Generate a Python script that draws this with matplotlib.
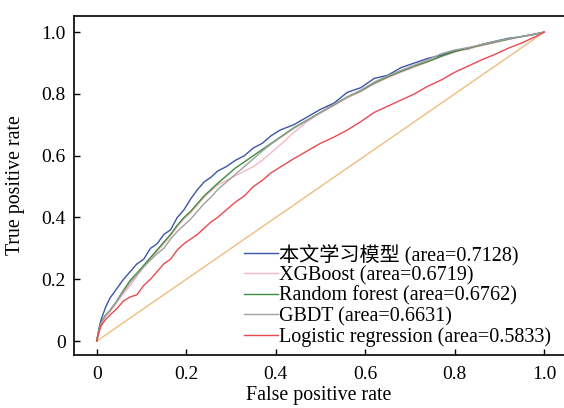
import matplotlib
matplotlib.use('Agg')
import matplotlib.pyplot as plt

plt.rcParams['font.family'] = ['Liberation Serif', 'Noto Sans CJK SC']

# shared false positive rate grid
fpr = [0, .005, .01, .02, .03, .045, .06, .075, .09, .105, .12, .135, .15, .165, .18, .195,
       .21, .225, .24, .255, .27, .29, .31, .33, .35, .37, .39, .41, .44, .47, .5, .53,
       .56, .59, .62, .65, .68, .71, .74, .77, .8, .83, .86, .89, .92, .95, .98, 1.0]

tpr_ours = [0, .04, .07, .11, .14, .17, .2, .225, .25, .265, .3, .315, .345, .36, .4, .425,
            .46, .49, .515, .53, .55, .565, .585, .6, .625, .64, .665, .683, .7, .725, .75, .77,
            .805, .82, .85, .86, .885, .9, .915, .925, .94, .945, .96, .97, .98, .985, .993, 1.0]
tpr_xgb = [0, .03, .055, .08, .095, .125, .155, .18, .21, .24, .265, .29, .315, .34, .37, .395,
           .415, .44, .465, .485, .505, .52, .535, .55, .565, .585, .61, .635, .675, .71, .738, .762,
           .787, .807, .832, .852, .87, .887, .903, .92, .935, .946, .956, .966, .976, .985, .994, 1.0]
tpr_rf = [0, .035, .06, .085, .1, .13, .165, .197, .22, .245, .27, .295, .32, .345, .375, .4,
          .42, .445, .47, .49, .51, .535, .56, .58, .6, .62, .64, .66, .69, .715, .74, .765,
          .79, .81, .835, .855, .873, .89, .905, .922, .937, .948, .958, .968, .977, .986, .994, 1.0]
tpr_gbdt = [0, .033, .058, .083, .1, .128, .16, .19, .215, .24, .262, .283, .3, .33, .355, .375,
            .395, .42, .445, .465, .49, .515, .54, .565, .59, .615, .638, .658, .688, .714, .74, .766,
            .79, .812, .838, .858, .876, .893, .91, .93, .942, .95, .96, .97, .978, .986, .994, 1.0]
tpr_lr = [0, .03, .05, .07, .085, .105, .13, .143, .15, .18, .2, .225, .25, .265, .295, .315,
          .33, .345, .365, .385, .4, .425, .45, .47, .5, .52, .545, .563, .59, .615, .64, .66,
          .683, .71, .74, .76, .78, .8, .825, .845, .87, .89, .91, .928, .948, .965, .985, 1.0]

labels = ['本文学习模型 (area=0.7128)', 'XGBoost (area=0.6719)', 'Random forest (area=0.6762)',
          'GBDT (area=0.6631)', 'Logistic regression (area=0.5833)']
colors = ['#3c55a5', '#f5b8c4', '#3d8c40', '#a0a0a0', '#e84a50']
curves = [tpr_ours, tpr_xgb, tpr_rf, tpr_gbdt, tpr_lr]

fig = plt.figure(figsize=(5.64, 4.08), dpi=100)
ax = fig.add_axes([74/564, 53/408, 490/564, 339/408])

ax.plot([0, 1], [0, 1], color='#eebd80', lw=1.0)
for tpr, c, lab in zip(curves, colors, labels):
    ax.plot(fpr, tpr, color=c, lw=1.0, label=lab)

ax.set_xlim(-0.0507, 1.044)
ax.set_ylim(-0.045, 1.052)
ticks = [0, 0.2, 0.4, 0.6, 0.8, 1.0]
ticklabels = ['0', '0.2', '0.4', '0.6', '0.8', '1.0']
ax.set_xticks(ticks)
ax.set_xticklabels(ticklabels)
ax.set_yticks(ticks)
ax.set_yticklabels(ticklabels)
ax.tick_params(direction='in', length=4, labelsize=14, width=1)
ax.tick_params(axis='x', pad=8)
ax.tick_params(axis='y', pad=6)
ax.spines['right'].set_visible(False)
for s in ['left', 'bottom', 'top']:
    ax.spines[s].set_linewidth(1.2)
ax.set_xlabel('False positive rate', fontsize=14.3, labelpad=2)
ax.set_ylabel('True positive rate', fontsize=14.3, labelpad=12)

ax.legend(loc='lower right', bbox_to_anchor=(0.99, 0.0), frameon=False, fontsize=14.5,
          handlelength=1.7, handletextpad=0.05, labelspacing=0.05, borderaxespad=0.0)

fig.savefig('out.png', dpi=100)
